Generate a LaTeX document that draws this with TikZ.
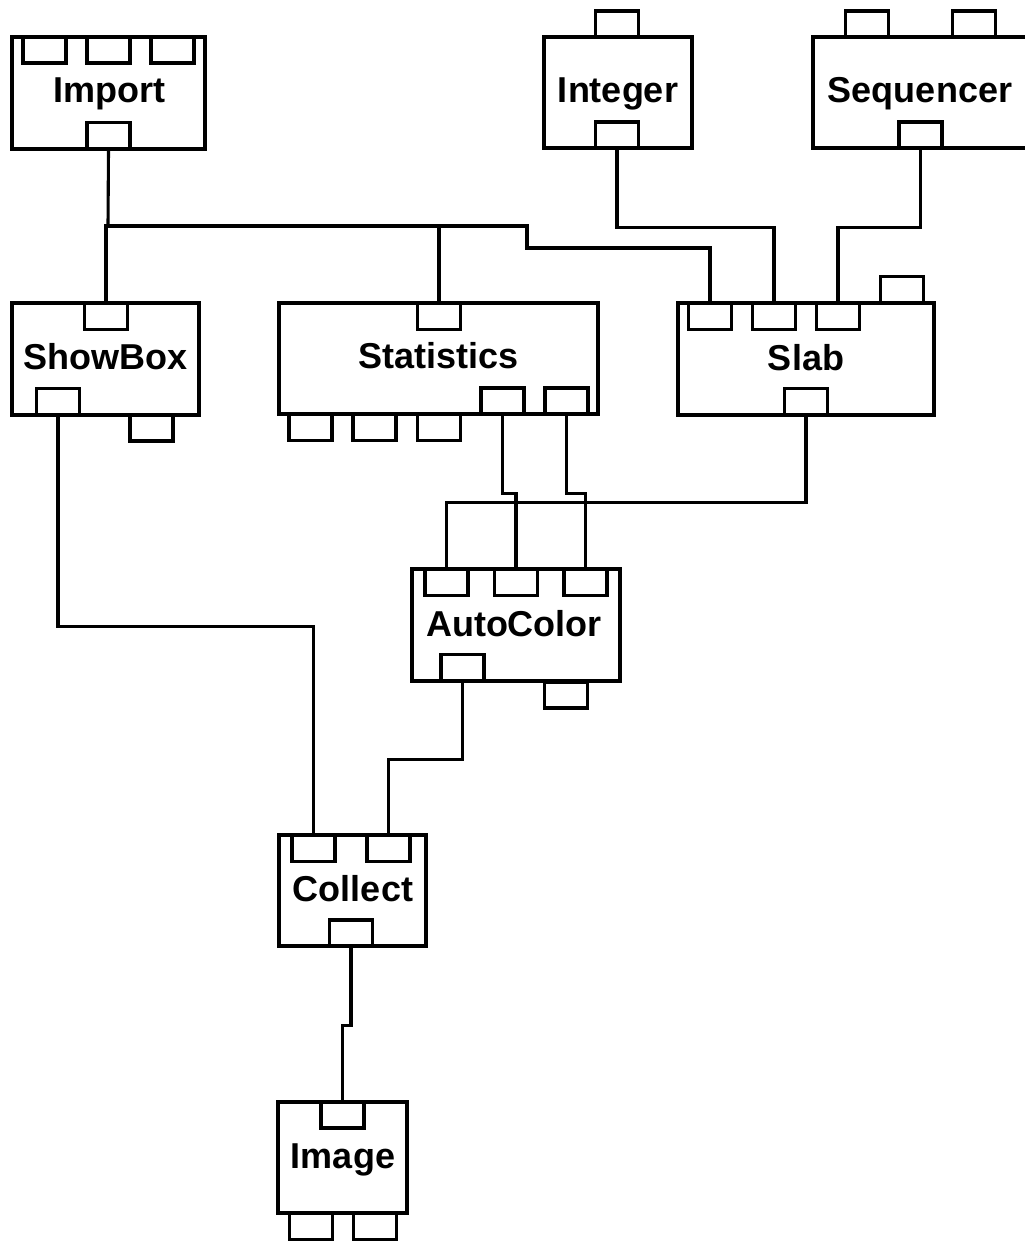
\documentclass[tikz,border=0pt]{standalone}
\usepackage{fontspec}
\setmainfont{Liberation Sans}
\begin{document}
\begin{tikzpicture}[x=1pt,y=-1pt,
  modbox/.style={draw,line width=3.1pt,inner sep=0pt,fill=white},
  port/.style={draw,line width=3.1pt,inner sep=0pt,minimum width=43pt,minimum height=26pt,fill=white},
  wire/.style={line width=3.1pt,line join=miter},
  lbl/.style={anchor=base,inner sep=0pt,font=\fontsize{36}{40}\selectfont\bfseries}]
\useasboundingbox (0,0) rectangle (1025,1242);

% ---------- module boxes ----------
\node[modbox,minimum width=193pt,minimum height=112pt] (imp) at (108.5,93) {};
\node[modbox,minimum width=148pt,minimum height=111pt] (int) at (618,92.5) {};
\node[modbox,minimum width=222pt,minimum height=111pt] (seq) at (924,92.5) {};
\node[modbox,minimum width=187pt,minimum height=112pt] (sb)  at (105.5,359) {};
\node[modbox,minimum width=319pt,minimum height=111pt] (stat) at (438.5,358.5) {};
\node[modbox,minimum width=256pt,minimum height=112pt] (slab) at (806,359) {};
\node[modbox,minimum width=208pt,minimum height=112pt] (ac)  at (516,625) {};
\node[modbox,minimum width=147pt,minimum height=111pt] (col) at (352.5,890.5) {};
\node[modbox,minimum width=129pt,minimum height=111pt] (img) at (342.5,1157.5) {};

% ---------- labels ----------
\node[lbl] (imp-l)  at (109,102) {Import};
\node[lbl] (int-l)  at (618,102) {Integer};
\node[lbl] (seq-l)  at (920,102) {Sequencer};
\node[lbl] (sb-l)   at (105.5,369) {ShowBox};
\node[lbl] (stat-l) at (438.5,368) {Statistics};
\node[lbl] (slab-l) at (806,370) {Slab};
\node[lbl] (ac-l)   at (514,636) {AutoColor};
\node[lbl] (col-l)  at (353,901) {Collect};
\node[lbl] (img-l)  at (343,1168) {Image};

% ---------- ports ----------
% Import
\node[port] (imp-t1) at (44.5,50) {};
\node[port] (imp-t2) at (108.5,50) {};
\node[port] (imp-t3) at (172.5,50) {};
\node[port] (imp-b)  at (108.5,135.5) {};
% Integer
\node[port] (int-t)  at (617,24) {};
\node[port] (int-b)  at (617,135) {};
% Sequencer
\node[port] (seq-t1) at (867,24) {};
\node[port] (seq-t2) at (974,24) {};
\node[port] (seq-b)  at (920.5,135) {};
% ShowBox
\node[port] (sb-t)   at (106,316.5) {};
\node[port] (sb-b)   at (58,401.5) {};
\node[port] (sb-o)   at (151.5,428) {};
% Statistics
\node[port] (stat-t)  at (439,316.5) {};
\node[port] (stat-b1) at (502.5,401) {};
\node[port] (stat-b2) at (566.5,401) {};
\node[port] (stat-o1) at (310.5,427.5) {};
\node[port] (stat-o2) at (374.5,427.5) {};
\node[port] (stat-o3) at (439,427.5) {};
% Slab
\node[port] (slab-t1) at (710,316.5) {};
\node[port] (slab-t2) at (774,316.5) {};
\node[port] (slab-t3) at (838,316.5) {};
\node[port] (slab-o)  at (902,289.5) {};
\node[port] (slab-b)  at (806,401.5) {};
% AutoColor
\node[port] (ac-t1) at (446.5,582.5) {};
\node[port] (ac-t2) at (516,582.5) {};
\node[port] (ac-t3) at (585.5,582.5) {};
\node[port] (ac-b)  at (462.5,667.5) {};
\node[port] (ac-o)  at (566,695) {};
% Collect
\node[port] (col-t1) at (313.5,848.5) {};
\node[port] (col-t2) at (388.5,848.5) {};
\node[port] (col-b)  at (351,933) {};
% Image
\node[port] (img-t)  at (342.5,1115) {};
\node[port] (img-o1) at (311,1226.5) {};
\node[port] (img-o2) at (375,1226.5) {};

% ---------- connectors ----------
\coordinate (bus) at (108,226);
\draw[wire] (imp-b.south) -- (bus);
\draw[wire] (sb-t.north) |- (527,226) -- (527,248) -| (slab-t1.north);
\draw[wire] (stat-t.north) -- (stat-t.north |- bus);
\draw[wire] (int-b.south) -- ++(0,78) -| (slab-t2.north);
\draw[wire] (seq-b.south) -- ++(0,78) -| (slab-t3.north);
\draw[wire] (stat-b1.south) -- ++(0,78) -| (ac-t2.north);
\draw[wire] (stat-b2.south) -- ++(0,78) -| (ac-t3.north);
\draw[wire] (slab-b.south) -- ++(0,86) -| (ac-t1.north);
\draw[wire] (sb-b.south) -- ++(0,210) -| (col-t1.north);
\draw[wire] (ac-b.south) -- ++(0,77) -| (col-t2.north);
\draw[wire] (col-b.south) -- ++(0,78) -| (img-t.north);
\end{tikzpicture}
\end{document}
